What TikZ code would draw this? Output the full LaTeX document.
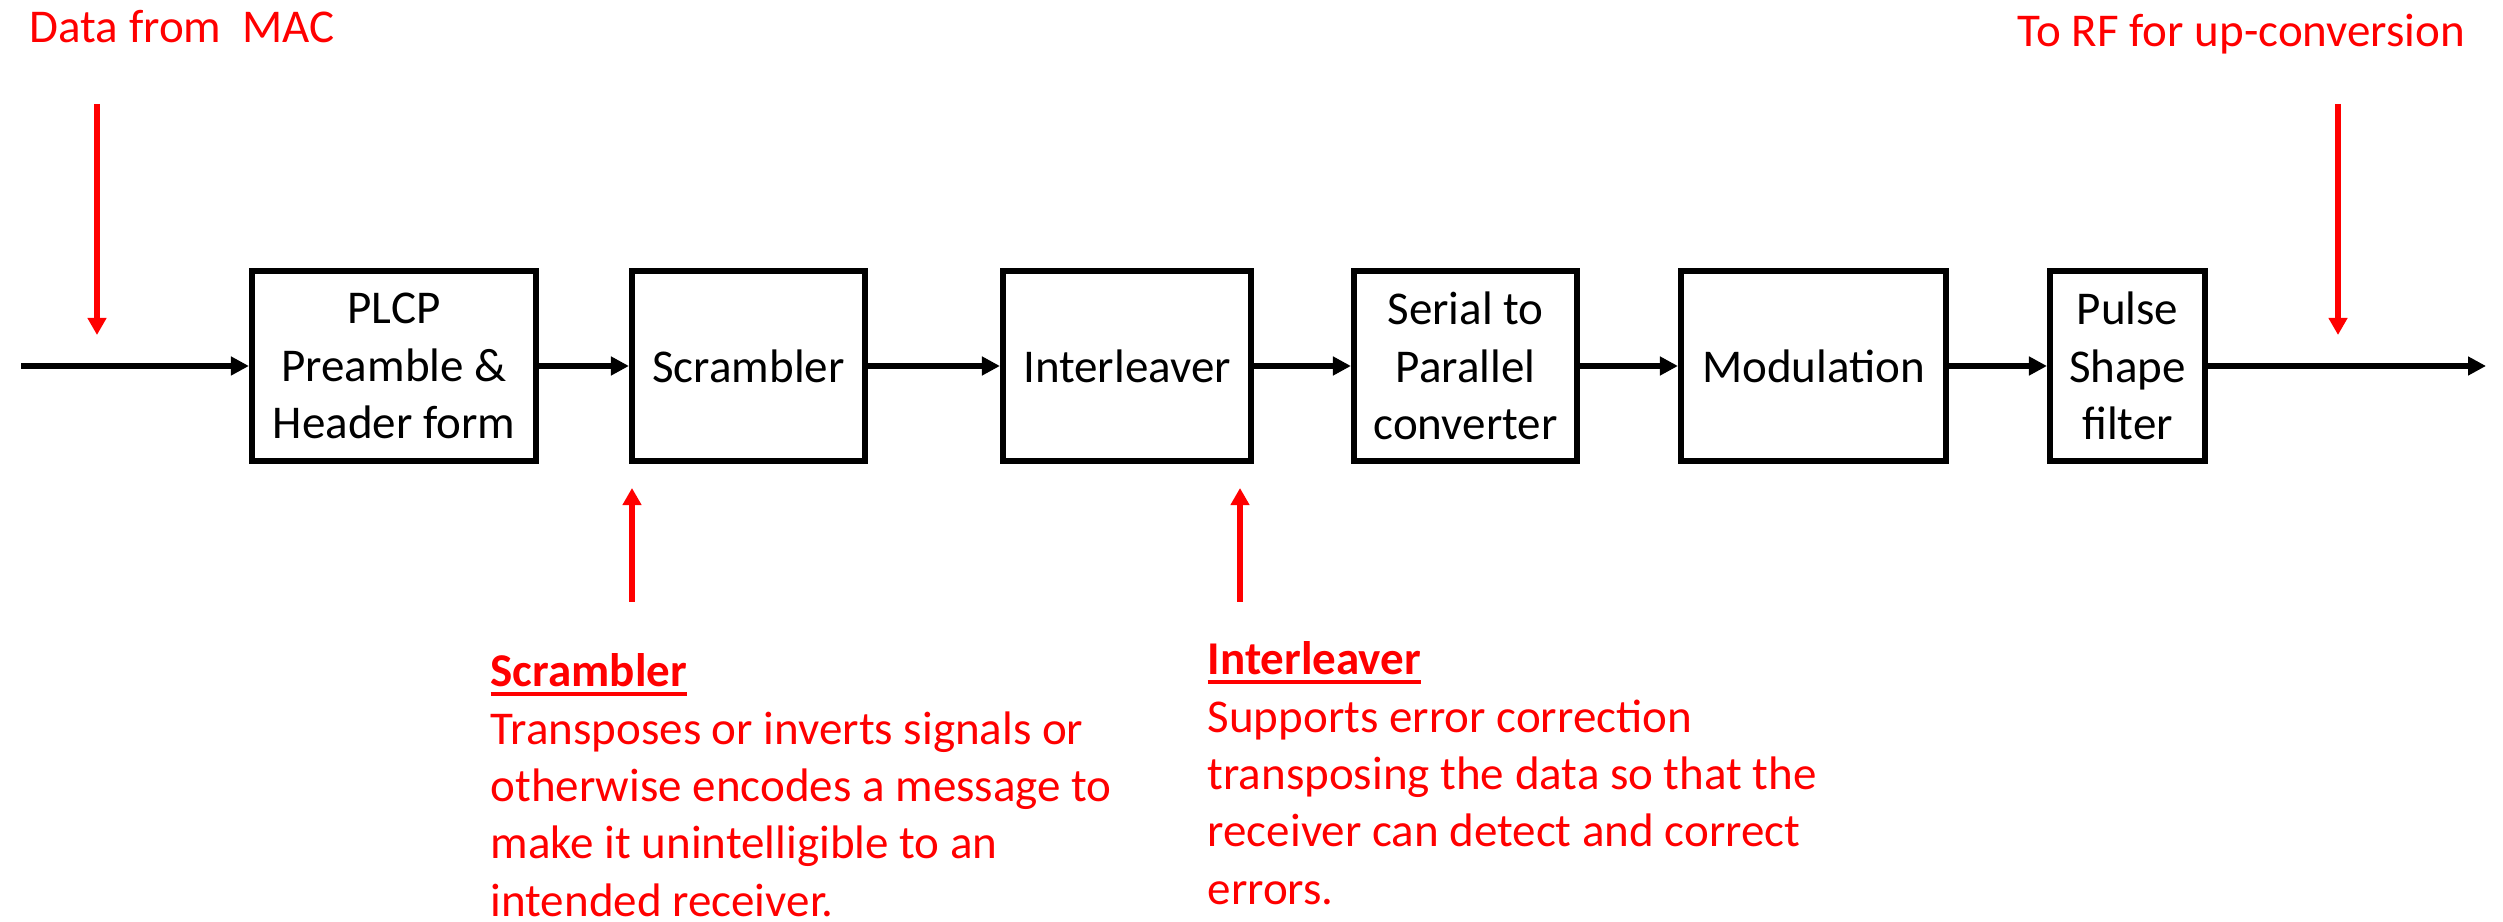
\documentclass[tikz,border=0pt]{standalone}
\usepackage{fontspec}
\setmainfont{Carlito}
\usetikzlibrary{arrows.meta}
\definecolor{annot}{RGB}{255,0,0}
% bold heading with a heavy underline
\newcommand\ulhead[1]{\leavevmode\setbox0\hbox{\textbf{#1}}\rlap{\rule[-2.6pt]{\wd0}{1.1pt}}\box0}
\begin{document}
\begin{tikzpicture}[x=0.01cm,y=-0.01cm,
  every node/.style={font=\fontsize{13.37pt}{16.3pt}\selectfont, inner sep=0pt},
  blockbox/.style={draw=black, line width=0.06cm, minimum height=1.90cm, align=center},
  flow/.style={line width=0.06cm, -{Triangle[length=0.18cm,width=0.18cm]}},
  pointer/.style={draw=annot, line width=0.055cm, -{Triangle[length=0.17cm,width=0.18cm]}},
  redtext/.style={text=annot}]
\useasboundingbox (0,0) rectangle (2503,922);

% processing chain
\node[blockbox, minimum width=2.84cm] (plcp) at (394,366) {PLCP\\Preamble \&\\Header form};
\node[blockbox, minimum width=2.33cm] (scr)  at (748.5,366) {Scrambler};
\node[blockbox, minimum width=2.48cm] (intl) at (1127,366) {Interleaver};
\node[blockbox, minimum width=2.23cm] (s2p)  at (1465.5,366) {Serial to\\Parallel\\converter};
\node[blockbox, minimum width=2.65cm] (mod)  at (1813.5,366) {Modulation};
\node[blockbox, minimum width=1.55cm] (psf)  at (2127.5,366) {Pulse\\Shape\\filter};

\coordinate (in)  at (21,366);
\coordinate (out) at (2486,366);

\draw[flow] (in) -- (plcp.west);
\draw[flow] (plcp.east) -- (scr.west);
\draw[flow] (scr.east) -- (intl.west);
\draw[flow] (intl.east) -- (s2p.west);
\draw[flow] (s2p.east) -- (mod.west);
\draw[flow] (mod.east) -- (psf.west);
\draw[flow] (psf.east) -- (out);

% labels and pointers
\node[redtext, anchor=base west] (mac) at (29,43) {Data from~ MAC};
\node[redtext, anchor=base west] (rf) at (2017,47) {To RF for up-conversion};

\coordinate (macTop) at (97,104);
\coordinate (macTip) at (97,335);
\coordinate (rfTop)  at (2338,104);
\coordinate (rfTip)  at (2338,335);
\coordinate (scrTail) at (632,602);
\coordinate (scrTip)  at (632,488);
\coordinate (intTail) at (1240,602);
\coordinate (intTip)  at (1240,488);

\draw[pointer] (macTop) -- (macTip);
\draw[pointer] (rfTop) -- (rfTip);
\draw[pointer] (scrTail) -- (scrTip);
\draw[pointer] (intTail) -- (intTip);

% explanatory notes
\node[redtext, anchor=base west] (scrnote) at (490,687) {\parbox[t]{7cm}{\raggedright\ulhead{Scrambler}\\ Transposes or inverts signals or\\ otherwise encodes a message to\\ make it unintelligible to an\\ intended receiver.}};
\node[redtext, anchor=base west] (intnote) at (1207,675) {\parbox[t]{7cm}{\raggedright\ulhead{Interleaver}\\ Supports error correction\\ transposing the data so that the\\ receiver can detect and correct\\ errors.}};
\end{tikzpicture}
\end{document}
